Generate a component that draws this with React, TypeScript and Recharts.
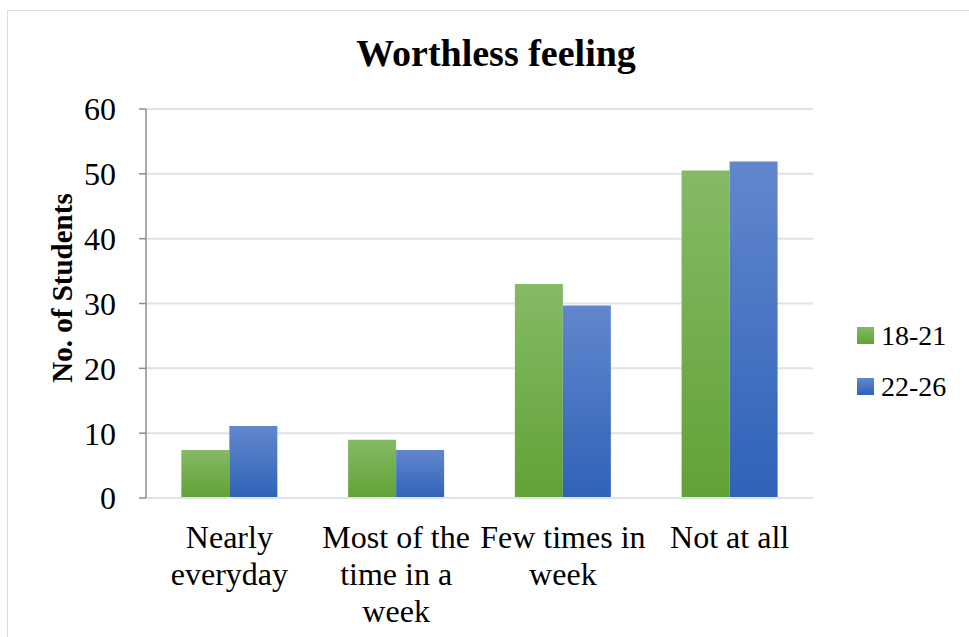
import React from "react";
import { BarChart, Bar, XAxis, YAxis, CartesianGrid, Legend } from "recharts";

const categories = ["Nearly everyday", "Most of the time in a week", "Few times in week", "Not at all"];
const categoryLines = [["Nearly", "everyday"], ["Most of the", "time in a", "week"], ["Few times in", "week"], ["Not at all"]];
const age1821 = [7.4, 9, 33, 50.5];
const age2226 = [11.1, 7.4, 29.7, 51.9];
const yTicks = [0, 10, 20, 30, 40, 50, 60];
const seriesNames = ["18-21", "22-26"];

const data = categories.map((c, i) => ({ name: c, a: age1821[i], b: age2226[i] }));

const FONT = "'Liberation Serif', 'Times New Roman', Times, serif";

const XTick = (props: any) => {
  const { x, y, payload } = props;
  const idx = categories.indexOf(payload.value);
  const lines = idx >= 0 ? categoryLines[idx] : [payload.value];
  return (
    <text x={x} y={y + 50} textAnchor="middle" style={{ fontFamily: FONT }} fontSize={32} fill="#000">
      {lines.map((l: string, i: number) => (
        <tspan key={i} x={x} dy={i === 0 ? 0 : 37}>{l}</tspan>
      ))}
    </text>
  );
};

const LegendContent = () => (
  <div style={{ fontFamily: FONT, fontSize: 28, color: "#000" }}>
    {seriesNames.map((n, i) => (
      <div key={n} style={{ display: "flex", alignItems: "center", height: 51 }}>
        <div
          style={{
            width: 17,
            height: 17,
            marginRight: 7,
            background:
              i === 0
                ? "linear-gradient(#85ba66, #61a235)"
                : "linear-gradient(#6287cd, #2f62b8)",
          }}
        />
        <span>{n}</span>
      </div>
    ))}
  </div>
);

export default function App() {
  return (
    <div style={{ position: "absolute", left: 0, top: 0, width: 969, height: 637, background: "#fff", fontFamily: FONT }}>
      <div
        style={{
          position: "absolute",
          left: 7,
          top: 10,
          width: 970,
          height: 640,
          borderTop: "1.5px solid #d9dde3",
          borderLeft: "1.5px solid #d9dde3",
        }}
      />
      <BarChart
        width={969}
        height={637}
        data={data}
        margin={{ top: 109, right: 56, bottom: 0, left: 0 }}
        barCategoryGap="21.2%"
        barGap={0}
        style={{ fontFamily: FONT }}
      >
        <defs>
          <linearGradient id="gGreen" x1="0" y1="0" x2="0" y2="1">
            <stop offset="0%" stopColor="#85ba66" />
            <stop offset="100%" stopColor="#61a235" />
          </linearGradient>
          <linearGradient id="gBlue" x1="0" y1="0" x2="0" y2="1">
            <stop offset="0%" stopColor="#6287cd" />
            <stop offset="100%" stopColor="#2f62b8" />
          </linearGradient>
        </defs>
        <CartesianGrid vertical={false} stroke="#dfe2e8" strokeWidth={2} />
        <XAxis
          dataKey="name"
          height={139}
          tickLine={false}
          tickSize={0}
          tickMargin={0}
          axisLine={{ stroke: "#dfe2e8", strokeWidth: 2 }}
          tick={<XTick />}
          interval={0}
        />
        <YAxis
          width={146}
          domain={[0, 60]}
          ticks={yTicks}
          tickSize={7}
          tickMargin={23}
          axisLine={{ stroke: "#8c8c8c", strokeWidth: 1.5 }}
          tickLine={{ stroke: "#8c8c8c", strokeWidth: 1.5 }}
          tick={{ fontFamily: FONT, fontSize: 32, fill: "#000", style: { fontFamily: FONT } }}
        />
        <Legend
          layout="vertical"
          align="right"
          verticalAlign="middle"
          content={<LegendContent />}
          wrapperStyle={{ left: 857, top: 310, right: "auto", width: 100 }}
        />
        <Bar dataKey="a" name={seriesNames[0]} fill="url(#gGreen)" isAnimationActive={false} />
        <Bar dataKey="b" name={seriesNames[1]} fill="url(#gBlue)" isAnimationActive={false} />
        <text x={496} y={66} textAnchor="middle" style={{ fontFamily: FONT }} fontWeight="bold" fontSize={38} fill="#000">
          Worthless feeling
        </text>
        <text
          x={72}
          y={288}
          textAnchor="middle"
          style={{ fontFamily: FONT }}
          fontWeight="bold"
          fontSize={29}
          fill="#000"
          transform="rotate(-90 72 288)"
        >
          No. of Students
        </text>
      </BarChart>
    </div>
  );
}
